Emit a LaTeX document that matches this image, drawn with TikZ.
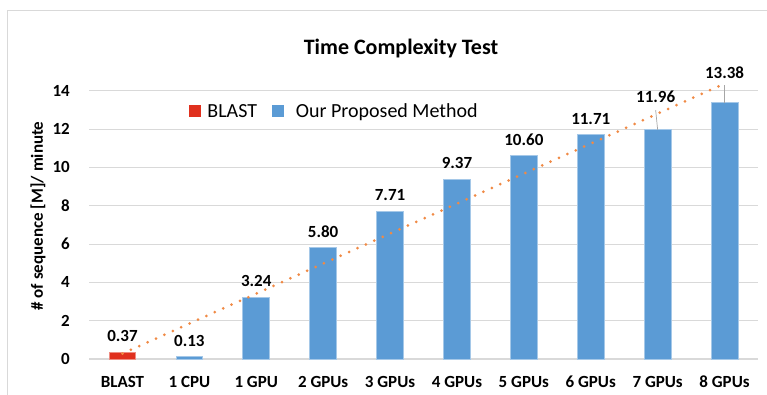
\documentclass[tikz,border=0pt]{standalone}
\usepackage{fontspec}
\setmainfont{Carlito}
\usepackage{xcolor}
\usetikzlibrary{positioning}
\definecolor{barblue}{HTML}{5B9BD5}
\definecolor{barred}{HTML}{E0301E}
\definecolor{trendorange}{HTML}{F08A45}
\definecolor{gridgray}{HTML}{D9D9D9}

\begin{document}
\begin{tikzpicture}[
    x=1pt, y=1pt,
    every node/.style={inner sep=0pt, font=\fontsize{17}{20}\selectfont\bfseries},
    gridline/.style={draw=gridgray, line width=1pt},
    leader/.style={draw=gray!70, line width=0.7pt},
    trendline/.style={draw=trendorange, line width=3pt, line cap=round, dash pattern=on 0pt off 9.2pt},
    legkey/.style={minimum size=12pt}
]
\useasboundingbox (0,0) rectangle (767,395);
\draw[gridline] (7,0) -- (7,384) -- (767,384);

\node[anchor=base, font=\fontsize{22}{26}\selectfont\bfseries] (title) at (401,340) {Time Complexity Test};
\node[rotate=90] (ylabel) at (38,179) {\# of sequence [M]/ minute};

% legend
\node[legkey, fill=barred] (legred) at (195,283.5) {};
\node[right=6pt of legred, font=\fontsize{20}{24}\selectfont] (legblast) {BLAST};
\node[legkey, fill=barblue, right=15pt of legblast] (legblue) {};
\node[anchor=base west, font=\fontsize{20}{24}\selectfont] (legours) at ([xshift=11pt]legblue.east |- legblast.base) {Our Proposed Method};

\begin{scope}[shift={(89,36)}, x=66.9pt, y=19.16pt]
  \foreach \y in {2,4,...,14}
    \draw[gridline] (0,\y) -- (10,\y);
  \draw[gridline, line width=2pt] (0,0) -- (10,0);
  \foreach \y in {0,2,...,14}
    \node[anchor=east, xshift=-19pt] (tick\y) at (0,\y) {\y};

  \foreach \v/\cat/\col [count=\i] in {0.37/BLAST/barred, 0.13/1 CPU/barblue, 3.24/1 GPU/barblue,
      5.80/2 GPUs/barblue, 7.71/3 GPUs/barblue, 9.37/4 GPUs/barblue, 10.60/5 GPUs/barblue,
      11.71/6 GPUs/barblue, 11.96/7 GPUs/barblue, 13.38/8 GPUs/barblue} {
    \filldraw[fill=\col, draw=\col!55!white, line width=0.8pt] (\i-0.7,0) rectangle (\i-0.3,\v);
    \coordinate (top\i) at (\i-0.5,\v);
    \node[anchor=base, yshift=-29pt] (cat\i) at (\i-0.5,0) {\cat};
    \ifnum\i<9
      \node[anchor=base, yshift=10.5pt] (val\i) at (top\i) {\v};
    \fi
  }
  \node[anchor=base, xshift=-2pt, yshift=27pt] (val9) at (top9) {11.96};
  \node[anchor=base, yshift=24.6pt] (val10) at (top10) {13.38};
  \draw[leader] ([yshift=-7pt]val9.south) -- (top9);
  \draw[leader] ([yshift=-7pt]val10.south) -- (top10);

  % linear trend
  \coordinate (trendA) at (0.5,0.282);
  \coordinate (trendB) at (9.5,14.372);
  \draw[trendline] (trendA) -- (trendB);
\end{scope}
\end{tikzpicture}
\end{document}
